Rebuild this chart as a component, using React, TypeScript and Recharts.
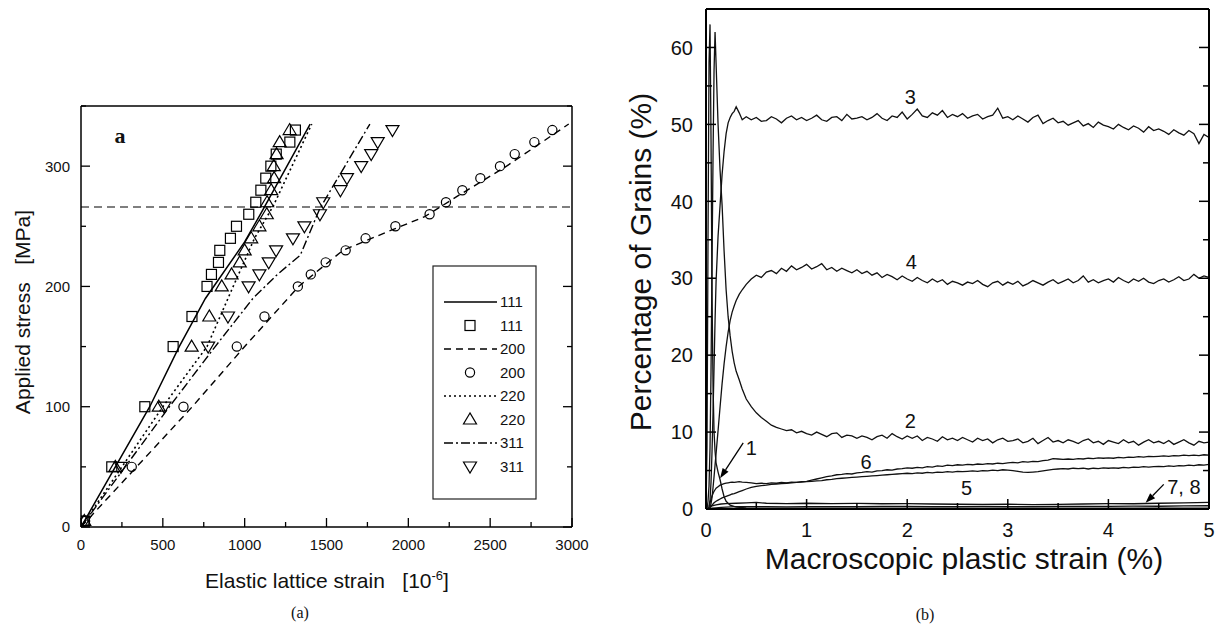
import React from "react";
import { ComposedChart, Line, Scatter, XAxis, YAxis, ReferenceLine, ReferenceDot } from "recharts";

const SANS = "'Liberation Sans', Arial, Helvetica, sans-serif";
const SERIF = "'Liberation Serif', 'Times New Roman', serif";

// ---- panel (a): lattice strain vs applied stress ----
const stressLevels = [5, 50, 100, 150, 175, 200, 210, 220, 230, 240, 250, 260, 270, 280, 290, 300, 310, 320, 330];
const strain111 = [20, 188, 390, 563, 678, 770, 797, 840, 848, 913, 950, 1025, 1068, 1099, 1129, 1160, 1193, 1276, 1310];
const strain200 = [25, 310, 626, 952, 1121, 1325, 1404, 1495, 1617, 1739, 1921, 2130, 2230, 2330, 2440, 2560, 2650, 2770, 2880];
const strain220 = [20, 210, 475, 676, 784, 860, 920, 970, 1000, 1040, 1090, 1135, 1137, 1162, 1180, 1178, 1195, 1214, 1275];
const strain311 = [20, 244, 509, 777, 898, 1024, 1090, 1147, 1192, 1295, 1365, 1460, 1480, 1585, 1625, 1712, 1773, 1813, 1903];

const model111X = [0, 420, 600, 760, 1000, 1100, 1400];
const model111Y = [0, 100, 150, 190, 237, 261, 335];
const model200X = [0, 680, 1000, 1330, 1600, 1900, 2100, 2300, 2600, 2980];
const model200Y = [0, 100, 150, 200, 230, 247, 258, 275, 300, 335];
const model220X = [0, 500, 770, 930, 1060, 1175, 1410];
const model220Y = [0, 100, 150, 200, 240, 267, 335];
const model311X = [0, 540, 820, 1050, 1200, 1340, 1460, 1765];
const model311Y = [0, 100, 150, 190, 210, 226, 265, 335];

const yieldStress = 266;
const ticksAx = [0, 250, 500, 750, 1000, 1250, 1500, 1750, 2000, 2250, 2500, 2750, 3000];
const ticksAy = [0, 50, 100, 150, 200, 250, 300, 350];

// ---- panel (b): percentage of grains vs macroscopic plastic strain ----
const strainB = [
  0, 0.01, 0.02, 0.03, 0.04, 0.05, 0.06, 0.07, 0.08, 0.09, 0.1, 0.12, 0.14, 0.16, 0.18, 0.2, 0.22, 0.24, 0.26, 0.28, 0.3, 0.33, 0.36, 0.4,
  0.45, 0.5, 0.55, 0.6, 0.65, 0.7, 0.75, 0.8, 0.85, 0.9, 0.95, 1,
  1.05, 1.1, 1.15, 1.2, 1.25, 1.3, 1.35, 1.4, 1.45, 1.5,
  1.55, 1.6, 1.65, 1.7, 1.75, 1.8, 1.85, 1.9, 1.95, 2,
  2.05, 2.1, 2.15, 2.2, 2.25, 2.3, 2.35, 2.4, 2.45, 2.5,
  2.55, 2.6, 2.65, 2.7, 2.75, 2.8, 2.85, 2.9, 2.95, 3,
  3.05, 3.1, 3.15, 3.2, 3.25, 3.3, 3.35, 3.4, 3.45, 3.5,
  3.55, 3.6, 3.65, 3.7, 3.75, 3.8, 3.85, 3.9, 3.95, 4,
  4.05, 4.1, 4.15, 4.2, 4.25, 4.3, 4.35, 4.4, 4.45, 4.5,
  4.55, 4.6, 4.65, 4.7, 4.75, 4.8, 4.85, 4.9, 4.95, 5,
];
const grains2 = [
  0, 0, 1, 3, 8, 18, 32, 46, 57, 62, 58, 50, 44, 39.5, 33.5, 28.5, 25, 22.5, 20.5, 19, 17.9, 16.8, 15.6, 14.3,
  13.3, 12.5, 11.9, 11.4, 10.9, 10.6, 10.4, 10.2, 10.3, 9.9, 10.1, 9.8,
  9.6, 10.0, 9.7, 9.4, 9.8, 9.9, 9.3, 9.6, 9.5, 9.2,
  9.5, 9.3, 9.0, 9.4, 9.6, 9.2, 9.8, 9.4, 9.1, 9.5,
  9.2, 9.5, 8.9, 9.3, 9.1, 8.8, 9.4, 9.0, 9.2, 8.9,
  9.3, 9.0, 8.7, 9.2, 8.9, 9.1, 8.6, 9.0, 9.2, 8.8,
  8.9, 9.1, 8.6, 8.8, 9.2, 8.5, 8.9, 9.3, 8.7, 8.9,
  8.6, 9.0, 8.8, 8.5, 8.9, 9.1, 8.6, 8.8, 8.4, 8.9,
  8.7, 8.5, 9.0, 8.6, 8.8, 8.3, 8.7, 9.0, 8.6, 8.8,
  8.5, 8.9, 8.4, 8.7, 9.0, 8.6, 8.3, 8.8, 8.6, 8.7,
];
const grains3 = [
  0, 0, 0, 0.3, 1.2, 3.5, 7.5, 12.5, 18.5, 24.5, 29.5, 35.5, 39.5, 43.5, 46.5, 48.8, 50.2, 50.9, 51.4, 51.7, 52.3, 51.5, 50.6, 51.0,
  50.6, 50.9, 50.4, 50.5, 51.0, 50.7, 50.2, 50.8, 51.1, 50.6, 50.9, 50.5,
  50.8, 51.2, 50.6, 50.4, 50.9, 51.0, 50.5, 51.3, 50.7, 50.8,
  51.0, 50.6, 50.9, 51.4, 50.8, 50.5, 51.1, 50.9, 51.6, 50.7,
  51.3, 52.0, 51.1, 50.9, 51.5, 51.2, 51.8, 50.9, 51.3, 51.0,
  51.4, 50.8, 51.1, 51.3, 50.7, 51.0, 51.2, 52.1, 50.8, 51.0,
  50.6, 51.1, 50.7, 50.3, 50.9, 51.2, 50.1, 50.5, 50.8, 50.2,
  50.4, 49.9, 50.2, 50.5, 49.8, 50.1, 49.6, 50.3, 49.9, 49.7,
  49.4, 50.0, 49.6, 49.3, 49.8, 49.5, 49.0, 49.7, 49.2, 49.4,
  49.1, 48.7, 49.3, 48.9, 48.6, 49.2, 48.8, 47.5, 48.7, 48.3,
];
const grains4 = [
  0, 0, 0, 0, 0.2, 0.7, 1.5, 2.8, 4.2, 5.7, 7.2, 10.2, 13.3, 16.3, 18.9, 21.1, 23.0, 24.5, 25.6, 26.4, 27.1, 27.9, 28.5, 29.2,
  29.9, 30.4, 30.1, 30.8, 31.0, 30.6, 31.3, 30.9, 31.6, 31.1, 31.4, 31.8,
  31.2, 31.5, 31.9, 31.1, 31.4, 30.9, 31.3, 31.0, 30.7, 31.1,
  30.6, 30.9, 30.4, 30.7, 30.1, 30.5, 30.2, 29.8, 30.3, 29.9,
  29.6, 30.1, 29.7, 29.4, 29.9, 29.5, 29.8, 29.2, 29.6, 29.4,
  29.1, 29.5, 29.3, 29.7, 29.2, 28.9, 29.4, 29.6, 29.1, 29.5,
  29.2, 29.6, 29.0, 29.3, 29.7, 29.4, 29.1, 29.5, 29.8, 29.3,
  29.6, 29.9, 29.4, 29.7, 30.3, 29.5, 29.8, 29.4, 29.7, 29.9,
  29.5, 30.1, 29.7, 29.4, 29.9, 29.6, 30.0, 29.5, 29.3, 29.7,
  29.9, 29.5, 29.8, 30.2, 29.7, 29.9, 30.5, 30.0, 30.3, 30.1,
];
const grains5 = [
  0, 0, 0, 0.1, 0.2, 0.35, 0.5, 0.65, 0.8, 0.9, 1.0, 1.15, 1.3, 1.45, 1.55, 1.65, 1.75, 1.85, 1.95, 2.0, 2.1, 2.25, 2.4, 2.6,
  2.8, 2.95, 3.05, 3.1, 3.2, 3.25, 3.3, 3.35, 3.4, 3.45, 3.5, 3.55,
  3.6, 3.65, 3.7, 3.8, 3.85, 3.95, 4.0, 4.05, 4.1, 4.15,
  4.2, 4.25, 4.3, 4.35, 4.4, 4.45, 4.5, 4.55, 4.6, 4.65,
  4.6, 4.7, 4.65, 4.75, 4.7, 4.8, 4.75, 4.85, 4.8, 4.9,
  4.85, 4.9, 4.95, 4.9, 5.0, 4.95, 5.05, 5.0, 5.1, 5.05,
  5.0, 4.9, 4.8, 4.75, 4.8, 4.85, 4.95, 5.05, 5.15, 5.2,
  5.25, 5.2, 5.3, 5.25, 5.3, 5.2, 5.3, 5.25, 5.35, 5.3,
  5.35, 5.3, 5.4, 5.35, 5.45, 5.4, 5.5, 5.45, 5.5, 5.55,
  5.5, 5.6, 5.55, 5.65, 5.6, 5.7, 5.65, 5.75, 5.7, 5.8,
];
const grains6 = [
  0, 0, 0, 0.3, 0.8, 1.3, 1.7, 2.0, 2.3, 2.5, 2.7, 2.9, 3.1, 3.2, 3.3, 3.35, 3.4, 3.45, 3.5, 3.45, 3.5, 3.55, 3.5, 3.45,
  3.4, 3.3, 3.35, 3.3, 3.4, 3.35, 3.45, 3.4, 3.5, 3.45, 3.55, 3.6,
  3.75, 3.9, 4.05, 4.2, 4.3, 4.45, 4.5, 4.6, 4.55, 4.7,
  4.75, 4.85, 4.8, 4.95, 5.0, 5.1, 5.05, 5.2, 5.25, 5.35,
  5.3, 5.4, 5.35, 5.5, 5.45, 5.6, 5.55, 5.7, 5.65, 5.75,
  5.7, 5.8, 5.75, 5.85, 5.8, 5.9, 5.85, 5.95, 5.9, 6.0,
  6.05, 6.0, 6.15, 6.1, 6.2, 6.15, 6.3, 6.35, 6.55, 6.5,
  6.45, 6.5, 6.45, 6.55, 6.5, 6.6, 6.55, 6.65, 6.6, 6.65,
  6.6, 6.7, 6.65, 6.75, 6.7, 6.8, 6.75, 6.85, 6.8, 6.85,
  6.9, 6.85, 6.95, 6.9, 7.0, 6.95, 7.0, 6.95, 7.05, 7.0,
];
const strain1 = [0, 0.01, 0.02, 0.03, 0.04, 0.05, 0.06, 0.07, 0.08, 0.09, 0.1, 0.12, 0.14, 0.16, 0.18, 0.2, 0.24, 0.3, 0.4, 0.6, 1, 2, 3, 4, 5];
const grains1 = [0, 8, 35, 58, 63, 48, 28, 16, 10, 7.5, 6, 4.8, 3.8, 2.6, 1.6, 1, 0.5, 0.25, 0.15, 0.1, 0.1, 0.1, 0.1, 0.1, 0.1];
const strainLow = [0, 0.03, 0.06, 0.1, 0.15, 0.2, 0.3, 0.4, 0.5, 0.6, 0.8, 1, 1.25, 1.5, 1.75, 2, 2.25, 2.5, 2.75, 3, 3.25, 3.5, 3.75, 4, 4.25, 4.5, 4.75, 5];
const grains7 = [0, 0.2, 0.4, 0.55, 0.65, 0.7, 0.75, 0.8, 0.85, 0.75, 0.7, 0.75, 0.7, 0.72, 0.68, 0.7, 0.65, 0.62, 0.6, 0.62, 0.58, 0.6, 0.65, 0.7, 0.68, 0.75, 0.8, 0.85];
const grains8 = [0, 0.05, 0.1, 0.15, 0.2, 0.25, 0.3, 0.3, 0.32, 0.3, 0.28, 0.3, 0.32, 0.3, 0.33, 0.35, 0.32, 0.3, 0.33, 0.3, 0.32, 0.35, 0.33, 0.35, 0.38, 0.36, 0.4, 0.42];

const curveLabels = [
  { text: "3", x: 2.03, y: 53.6 },
  { text: "4", x: 2.04, y: 32.2 },
  { text: "2", x: 2.03, y: 11.5 },
  { text: "6", x: 1.59, y: 6.2 },
  { text: "5", x: 2.59, y: 2.7 },
  { text: "1", x: 0.45, y: 7.9 },
  { text: "7, 8", x: 4.75, y: 2.9 },
];
const arrows = [
  { from: { x: 0.37, y: 8.6 }, to: { x: 0.14, y: 4.0 } },
  { from: { x: 4.55, y: 3.2 }, to: { x: 4.37, y: 0.8 } },
];
const ticksBx = [0, 0.5, 1, 1.5, 2, 2.5, 3, 3.5, 4, 4.5, 5];
const ticksBy = [0, 5, 10, 15, 20, 25, 30, 35, 40, 45, 50, 55, 60, 65];

const toPts = (xs: number[], ys: number[]) => xs.map((x, i) => ({ x, y: ys[i] }));

type Side = "bottom" | "top" | "left" | "right";
const isMult = (v: number, step: number) => Math.abs(v / step - Math.round(v / step)) < 1e-6;

function axisTick(side: Side, step: number, major: number, minor: number, sw: number, font?: { size: number; gap: number }) {
  return (props: any) => {
    const { x, y, payload } = props;
    const v = payload.value as number;
    const big = isMult(v, step);
    const len = big ? major : minor;
    let l: number[];
    if (side === "bottom") l = [x, y, x, y - len];
    else if (side === "top") l = [x, y, x, y + len];
    else if (side === "left") l = [x, y, x + len, y];
    else l = [x, y, x - len, y];
    return (
      <g>
        <line x1={l[0]} y1={l[1]} x2={l[2]} y2={l[3]} stroke="#000" strokeWidth={sw} />
        {font && big && side === "bottom" && (
          <text x={x} y={y + font.gap} dy="0.71em" textAnchor="middle" fontSize={font.size} fontFamily={SANS} fill="#111">
            {v}
          </text>
        )}
        {font && big && side === "left" && (
          <text x={x - font.gap} y={y} dy="0.36em" textAnchor="end" fontSize={font.size} fontFamily={SANS} fill="#111">
            {v}
          </text>
        )}
      </g>
    );
  };
}

const Square = (p: any) => <rect x={p.cx - 5} y={p.cy - 5} width={10} height={10} fill="none" stroke="#000" strokeWidth={1.2} />;
const Circ = (p: any) => <circle cx={p.cx} cy={p.cy} r={4.6} fill="none" stroke="#000" strokeWidth={1.2} />;
const TriUp = (p: any) => (
  <polygon points={`${p.cx},${p.cy - 6.5} ${p.cx - 6.5},${p.cy + 4.5} ${p.cx + 6.5},${p.cy + 4.5}`} fill="none" stroke="#000" strokeWidth={1.2} />
);
const TriDown = (p: any) => (
  <polygon points={`${p.cx - 6.5},${p.cy - 4.5} ${p.cx + 6.5},${p.cy - 4.5} ${p.cx},${p.cy + 6.5}`} fill="none" stroke="#000" strokeWidth={1.2} />
);

const Arrow = (p: any) => {
  const { x1, y1, x2, y2 } = p;
  const ang = Math.atan2(y2 - y1, x2 - x1);
  const L = 10;
  const W = 3.5;
  const bx = x2 - L * Math.cos(ang);
  const by = y2 - L * Math.sin(ang);
  const px = -Math.sin(ang) * W;
  const py = Math.cos(ang) * W;
  return (
    <g>
      <line x1={x1} y1={y1} x2={bx} y2={by} stroke="#000" strokeWidth={1.3} />
      <polygon points={`${x2},${y2} ${bx + px},${by + py} ${bx - px},${by - py}`} fill="#000" />
    </g>
  );
};

const DASH = { d111: undefined, d200: "7 5", d220: "2 3", d311: "9 3 2 3" };

// axes get 1px of thickness (a 0px axis is not drawn); the margins absorb it
function ChartA() {
  const axisLine = { stroke: "#000", strokeWidth: 1.5 };
  const font = { size: 15, gap: 12 };
  return (
    <ComposedChart width={600} height={628} margin={{ top: 105, right: 27, bottom: 100, left: 80 }}>
      <XAxis dataKey="x" type="number" domain={[0, 3000]} ticks={ticksAx} interval={0} allowDataOverflow
        height={1} tickSize={0} tickMargin={0} tickLine={false} axisLine={axisLine}
        tick={axisTick("bottom", 500, 9, 5, 1.3, font)} />
      <XAxis xAxisId="top" orientation="top" type="number" domain={[0, 3000]} ticks={ticksAx} interval={0} allowDataOverflow
        height={1} tickSize={0} tickMargin={0} tickLine={false} axisLine={axisLine}
        tick={axisTick("top", 500, 9, 5, 1.3)} />
      <YAxis dataKey="y" type="number" domain={[0, 350]} ticks={ticksAy} interval={0} allowDataOverflow
        width={1} tickSize={0} tickMargin={0} tickLine={false} axisLine={axisLine}
        tick={axisTick("left", 100, 9, 5, 1.3, { size: 15, gap: 11 })} />
      <YAxis yAxisId="right" orientation="right" type="number" domain={[0, 350]} ticks={ticksAy} interval={0} allowDataOverflow
        width={1} tickSize={0} tickMargin={0} tickLine={false} axisLine={axisLine}
        tick={axisTick("right", 100, 9, 5, 1.3)} />
      <ReferenceLine y={yieldStress} stroke="#000" strokeWidth={1.1} strokeDasharray="8 5" />
      <Line data={toPts(model111X, model111Y)} dataKey="y" type="linear" dot={false} stroke="#000" strokeWidth={1.5} isAnimationActive={false} />
      <Line data={toPts(model200X, model200Y)} dataKey="y" type="linear" dot={false} stroke="#000" strokeWidth={1.4} strokeDasharray={DASH.d200} isAnimationActive={false} />
      <Line data={toPts(model220X, model220Y)} dataKey="y" type="linear" dot={false} stroke="#000" strokeWidth={1.6} strokeDasharray={DASH.d220} isAnimationActive={false} />
      <Line data={toPts(model311X, model311Y)} dataKey="y" type="linear" dot={false} stroke="#000" strokeWidth={1.4} strokeDasharray={DASH.d311} isAnimationActive={false} />
      <Scatter data={toPts(strain111, stressLevels)} shape={Square} isAnimationActive={false} />
      <Scatter data={toPts(strain200, stressLevels)} shape={Circ} isAnimationActive={false} />
      <Scatter data={toPts(strain220, stressLevels)} shape={TriUp} isAnimationActive={false} />
      <Scatter data={toPts(strain311, stressLevels)} shape={TriDown} isAnimationActive={false} />
    </ComposedChart>
  );
}

function ChartB() {
  const axisLine = { stroke: "#000", strokeWidth: 2 };
  const font = { size: 20, gap: 14 };
  const series = [
    toPts(strain1, grains1),
    toPts(strainB, grains2),
    toPts(strainB, grains3),
    toPts(strainB, grains4),
    toPts(strainB, grains5),
    toPts(strainB, grains6),
    toPts(strainLow, grains7),
    toPts(strainLow, grains8),
  ];
  return (
    <ComposedChart width={624} height={628} margin={{ top: 8, right: 14, bottom: 118, left: 105 }}>
      <XAxis dataKey="x" type="number" domain={[0, 5]} ticks={ticksBx} interval={0} allowDataOverflow
        height={1} tickSize={0} tickMargin={0} tickLine={false} axisLine={axisLine}
        tick={axisTick("bottom", 1, 10, 6, 1.5, font)} />
      <XAxis xAxisId="top" orientation="top" type="number" domain={[0, 5]} ticks={ticksBx} interval={0} allowDataOverflow
        height={1} tickSize={0} tickMargin={0} tickLine={false} axisLine={axisLine}
        tick={axisTick("top", 1, 10, 6, 1.5)} />
      <YAxis dataKey="y" type="number" domain={[0, 65]} ticks={ticksBy} interval={0} allowDataOverflow
        width={1} tickSize={0} tickMargin={0} tickLine={false} axisLine={axisLine}
        tick={axisTick("left", 10, 10, 6, 1.5, { size: 20, gap: 13 })} />
      <YAxis yAxisId="right" orientation="right" type="number" domain={[0, 65]} ticks={ticksBy} interval={0} allowDataOverflow
        width={1} tickSize={0} tickMargin={0} tickLine={false} axisLine={axisLine}
        tick={axisTick("right", 10, 10, 6, 1.5)} />
      {series.map((d, i) => (
        <Line key={i} data={d} dataKey="y" type="linear" dot={false} stroke="#111" strokeWidth={1.3} isAnimationActive={false} />
      ))}
      {curveLabels.map((c) => (
        <ReferenceDot key={c.text} x={c.x} y={c.y} r={0}
          shape={(p: any) => (
            <text x={p.cx} y={p.cy} dy="0.36em" textAnchor="middle" fontSize={20} fontFamily={SANS} fill="#111">
              {c.text}
            </text>
          )} />
      ))}
      {arrows.map((a, i) => (
        <ReferenceLine key={i} segment={[a.from, a.to]} shape={Arrow} />
      ))}
    </ComposedChart>
  );
}

const legendRows = [
  { label: "111", kind: "line", dash: DASH.d111 },
  { label: "111", kind: "square" },
  { label: "200", kind: "line", dash: DASH.d200 },
  { label: "200", kind: "circle" },
  { label: "220", kind: "line", dash: DASH.d220 },
  { label: "220", kind: "up" },
  { label: "311", kind: "line", dash: DASH.d311 },
  { label: "311", kind: "down" },
];

function LegendA() {
  const top = 302;
  const step = 23.5;
  return (
    <svg width={1224} height={628} style={{ position: "absolute", left: 0, top: 0, pointerEvents: "none" }}>
      <rect x={433} y={266} width={103} height={233} fill="#fff" stroke="#222" strokeWidth={1.2} />
      {legendRows.map((r, i) => {
        const cy = top + i * step;
        const sym =
          r.kind === "line" ? (
            <line x1={444} y1={cy} x2={497} y2={cy} stroke="#000" strokeWidth={r.dash === "2 3" ? 1.6 : 1.4} strokeDasharray={r.dash} />
          ) : r.kind === "square" ? (
            <Square cx={470} cy={cy} />
          ) : r.kind === "circle" ? (
            <Circ cx={470} cy={cy} />
          ) : r.kind === "up" ? (
            <TriUp cx={470} cy={cy} />
          ) : (
            <TriDown cx={470} cy={cy} />
          );
        return (
          <g key={i}>
            {sym}
            <text x={500} y={cy} dy="0.36em" fontSize={15} fontFamily={SANS} fill="#111">
              {r.label}
            </text>
          </g>
        );
      })}
      <text x={120} y={143} textAnchor="middle" fontSize={22} fontWeight="bold" fontFamily={SERIF} fill="#111">
        a
      </text>
    </svg>
  );
}

const centered: React.CSSProperties = { position: "absolute", transform: "translate(-50%, -50%)", whiteSpace: "nowrap", color: "#111", lineHeight: 1 };
const rotated: React.CSSProperties = { ...centered, transform: "translate(-50%, -50%) rotate(-90deg)" };

export default function App() {
  return (
    <div style={{ position: "absolute", left: 0, top: 0, width: 1224, height: 628, background: "#fff", overflow: "hidden", fontFamily: SANS }}>
      <div style={{ position: "absolute", left: 0, top: 0 }}>
        <ChartA />
      </div>
      <div style={{ position: "absolute", left: 600, top: 0 }}>
        <ChartB />
      </div>
      <LegendA />
      <div style={{ ...centered, left: 327, top: 580, fontSize: 21 }}>
        Elastic lattice strain&nbsp;&nbsp;&nbsp;[10<sup style={{ fontSize: 13 }}>-6</sup>]
      </div>
      <div style={{ ...rotated, left: 22, top: 312, fontSize: 21 }}>Applied stress&nbsp;&nbsp;&nbsp;[MPa]</div>
      <div style={{ ...centered, left: 300, top: 613, fontSize: 16, fontFamily: SERIF }}>(a)</div>
      <div style={{ ...centered, left: 964, top: 559, fontSize: 30 }}>Macroscopic plastic strain (%)</div>
      <div style={{ ...rotated, left: 641, top: 262, fontSize: 30 }}>Percentage of Grains (%)</div>
      <div style={{ ...centered, left: 925, top: 615, fontSize: 16, fontFamily: SERIF }}>(b)</div>
    </div>
  );
}
